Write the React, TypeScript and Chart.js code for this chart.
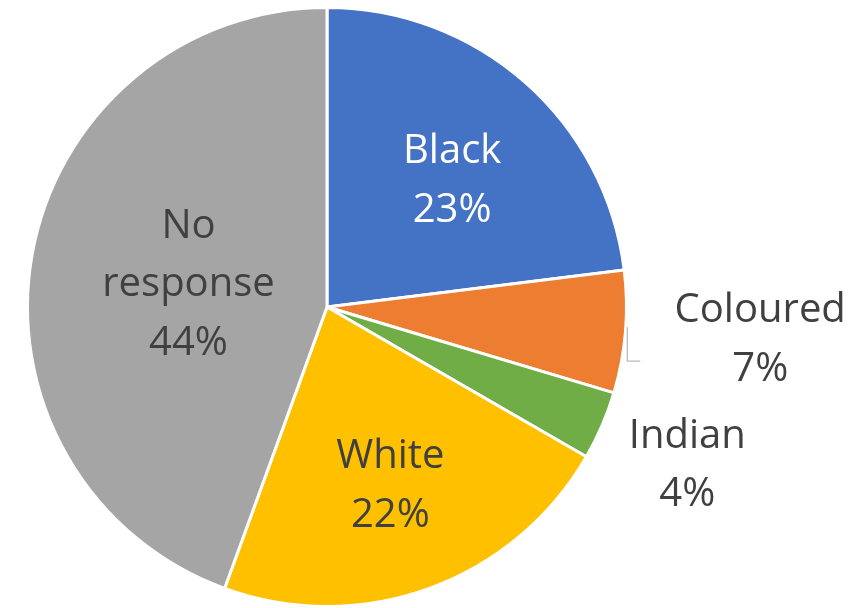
import React, { useEffect, useRef } from "react";
import { Chart, registerables } from "chart.js";

Chart.register(...registerables);

const categories = ["Black", "Coloured", "Indian", "White", "No response"];
const values = [23.0, 6.6, 3.7, 22.2, 44.4];
const colors = ["#4472C4", "#ED7D31", "#70AD47", "#FFC000", "#A5A5A5"];
const labelLines = [["Black"], ["Coloured"], ["Indian"], ["White"], ["No", "response"]];
const labelColors = ["#FFFFFF", "#404040", "#404040", "#404040", "#404040"];
// label anchor: radius as fraction of pie radius, angle offset (deg) from slice middle
const labelRadius = [0.6, 1.45, 1.31, 0.625, 0.47];
const labelAngleShift = [2.7, -0.8, 0.0, 0.2, 0.3];

const labelPlugin = {
  id: "sliceLabels",
  afterDatasetsDraw(chart: any) {
    const ctx = chart.ctx;
    const meta = chart.getDatasetMeta(0);
    const data = chart.data.datasets[0].data as number[];
    const total = data.reduce((a, b) => a + b, 0);
    ctx.save();
    ctx.font = "40px 'Open Sans'";
    ctx.textAlign = "center";
    ctx.textBaseline = "middle";
    const lh = 58.5;
    meta.data.forEach((arc: any, i: number) => {
      const { x, y, startAngle, endAngle, outerRadius } = arc.getProps(
        ["x", "y", "startAngle", "endAngle", "outerRadius"],
        true
      );
      const mid = (startAngle + endAngle) / 2 + (labelAngleShift[i] * Math.PI) / 180;
      const r = outerRadius * labelRadius[i];
      const cx = x + Math.cos(mid) * r;
      const cy = y + Math.sin(mid) * r;
      const pct = Math.round((data[i] / total) * 100) + "%";
      const lines = [...labelLines[i], pct];
      const startY = cy + 3 - ((lines.length - 1) * lh) / 2;
      ctx.fillStyle = labelColors[i];
      lines.forEach((t, k) => ctx.fillText(t, cx, startY + k * lh));
      if (categories[i] === "Coloured") {
        ctx.strokeStyle = "#A6A6A6";
        ctx.lineWidth = 1;
        ctx.beginPath();
        ctx.moveTo(cx - 133, cy - 10);
        ctx.lineTo(cx - 133, cy + 24);
        ctx.lineTo(cx - 120, cy + 24);
        ctx.stroke();
      }
    });
    ctx.restore();
  },
};

export default function App() {
  const ref = useRef<HTMLCanvasElement>(null);
  useEffect(() => {
    if (!ref.current) return;
    const chart = new Chart(ref.current, {
      type: "pie",
      data: {
        labels: categories,
        datasets: [
          {
            data: values,
            backgroundColor: colors,
            borderColor: "#FFFFFF",
            borderWidth: 3,
          },
        ],
      },
      options: {
        animation: false,
        responsive: false,
        maintainAspectRatio: false,
        layout: { padding: { left: 24, right: 226, top: 6, bottom: -4 } },
        plugins: {
          legend: { display: false },
          tooltip: { enabled: false },
        },
      },
      plugins: [labelPlugin],
    });
    return () => chart.destroy();
  }, []);
  return (
    <div style={{ position: "fixed", left: 0, top: 0, width: 856, height: 608, background: "#fff" }}>
      <canvas ref={ref} width={856} height={608} style={{ width: 856, height: 608 }} />
    </div>
  );
}
